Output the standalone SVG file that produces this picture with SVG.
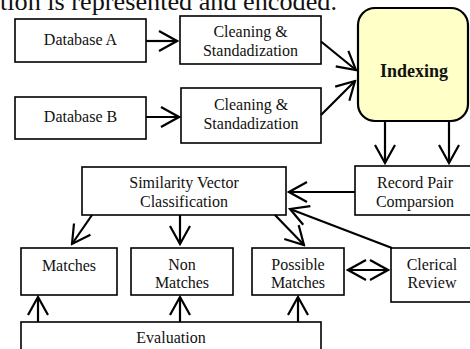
<svg xmlns="http://www.w3.org/2000/svg" width="470" height="349" viewBox="0 0 470 349">
<defs>
<style>
.box{fill:#fff;stroke:#000;stroke-width:1.6}
.idx{fill:#ffffc8;stroke:#000;stroke-width:2.2}
.t{font-family:"Liberation Serif","Times New Roman",serif;font-size:16px;fill:#111;text-anchor:middle}
.b{font-weight:bold;font-size:18px}
.c{stroke:#000;stroke-width:2.2;fill:none}
</style>
<marker id="ah" markerUnits="userSpaceOnUse" viewBox="-20 -12 22 24" refX="0" refY="0" markerWidth="22" markerHeight="24" orient="auto-start-reverse">
<path d="M-18,-10 L0,0 L-18,10" fill="none" stroke="#000" stroke-width="2.2"/>
</marker>
</defs>
<rect width="470" height="349" fill="#fff"/>
<text x="0" y="10" font-family="Liberation Serif, serif" font-size="25" fill="#111" textLength="337" lengthAdjust="spacingAndGlyphs">tion is represented and encoded.</text>
<g id="dbA"><rect class="box" x="15" y="19" width="131" height="43"/><text class="t" x="80.5" y="45">Database A</text></g>
<g id="clean1"><rect class="box" x="180" y="16" width="141" height="48"/><text class="t" x="250.5" y="37">Cleaning &amp;</text><text class="t" x="250.5" y="56">Standadization</text></g>
<g id="dbB"><rect class="box" x="15" y="97" width="131" height="42"/><text class="t" x="80.5" y="122">Database B</text></g>
<g id="clean2"><rect class="box" x="181" y="88" width="140" height="55"/><text class="t" x="251" y="110">Cleaning &amp;</text><text class="t" x="251" y="129">Standadization</text></g>
<g id="indexing"><rect class="idx" x="358" y="8" width="110" height="113" rx="17"/><text class="t b" x="414" y="77">Indexing</text></g>
<g id="rpc"><rect class="box" x="355" y="166" width="118" height="49"/><text class="t" x="415" y="188">Record Pair</text><text class="t" x="415" y="207">Comparsion</text></g>
<g id="svc"><rect class="box" x="82" y="167" width="204" height="48"/><text class="t" x="184" y="188">Similarity Vector</text><text class="t" x="184" y="207">Classification</text></g>
<g id="matches"><rect class="box" x="21" y="248" width="96" height="47"/><text class="t" x="69" y="271">Matches</text></g>
<g id="nonmatches"><rect class="box" x="131" y="248" width="102" height="47"/><text class="t" x="182" y="270">Non</text><text class="t" x="182" y="288">Matches</text></g>
<g id="possible"><rect class="box" x="252" y="248" width="92" height="47"/><text class="t" x="298" y="270">Possible</text><text class="t" x="298" y="288">Matches</text></g>
<g id="clerical"><rect class="box" x="391" y="248" width="82" height="54"/><text class="t" x="432" y="270">Clerical</text><text class="t" x="432" y="288">Review</text></g>
<g id="evaluation"><rect class="box" x="21" y="322" width="300" height="40"/><text class="t" x="171" y="343">Evaluation</text></g>
<g id="connectors">
<line class="c" x1="146" y1="41" x2="177" y2="41" marker-end="url(#ah)"/>
<line class="c" x1="146" y1="117" x2="179" y2="117" marker-end="url(#ah)"/>
<line class="c" x1="321" y1="41.5" x2="356" y2="70" marker-end="url(#ah)"/>
<line class="c" x1="321" y1="115" x2="355" y2="81" marker-end="url(#ah)"/>
<line class="c" x1="385" y1="121" x2="385" y2="163" marker-end="url(#ah)"/>
<line class="c" x1="449" y1="121" x2="449" y2="163" marker-end="url(#ah)"/>
<line class="c" x1="355" y1="192" x2="289" y2="192" marker-end="url(#ah)"/>
<line class="c" x1="392" y1="248" x2="290" y2="209" marker-end="url(#ah)"/>
<line class="c" x1="92" y1="215" x2="72" y2="244" marker-end="url(#ah)"/>
<line class="c" x1="180" y1="215" x2="180" y2="244" marker-end="url(#ah)"/>
<line class="c" x1="275" y1="215" x2="304" y2="245" marker-end="url(#ah)"/>
<line class="c" x1="348" y1="270" x2="388" y2="270" marker-start="url(#ah)" marker-end="url(#ah)"/>
<line class="c" x1="38" y1="322" x2="38" y2="297" marker-end="url(#ah)"/>
<line class="c" x1="180" y1="322" x2="180" y2="297" marker-end="url(#ah)"/>
<line class="c" x1="298" y1="322" x2="298" y2="297" marker-end="url(#ah)"/>
</g>
</svg>
